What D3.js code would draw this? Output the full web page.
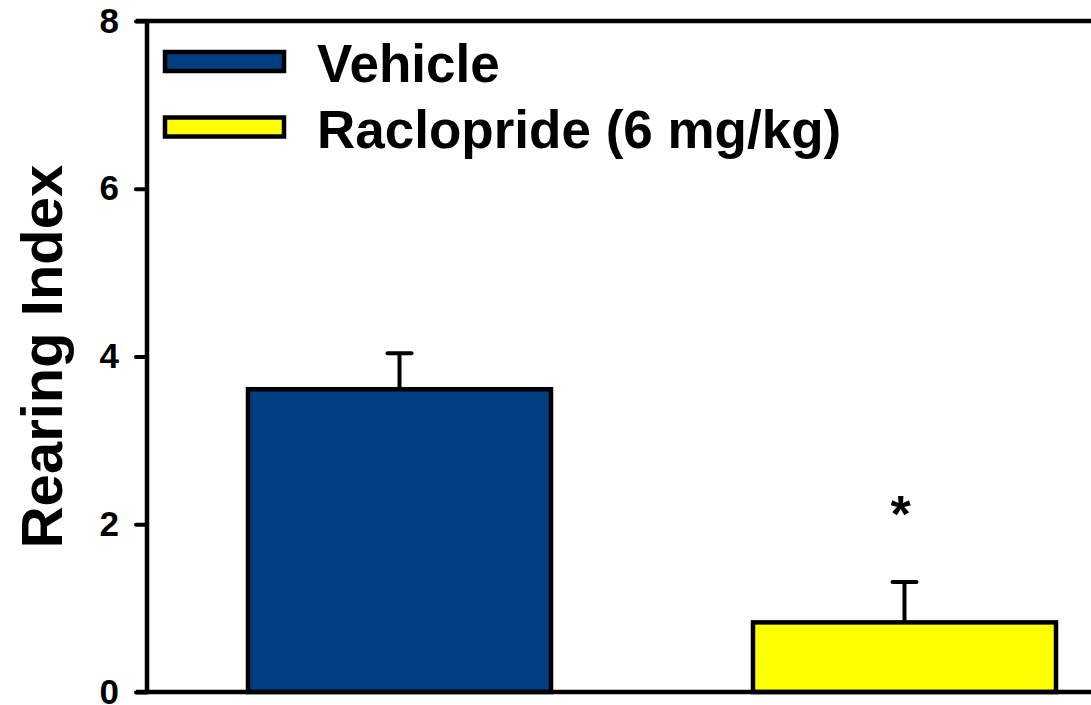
<!DOCTYPE html>
<html>
<head>
<meta charset="utf-8">
<script src="https://d3js.org/d3.v7.min.js"></script>
<style>
  body { margin: 0; background: #fff; }
  svg { display: block; font-family: "Liberation Sans", Arial, sans-serif; font-weight: bold; }
</style>
</head>
<body>
<svg width="1091" height="705"></svg>
<script>
// data
const groups = ["Vehicle", "Raclopride (6 mg/kg)"];
const means = [3.61, 0.83];
const errors = [0.43, 0.48];
const colors = ["#003f7f", "#ffff00"];
const yTicks = [0, 2, 4, 6, 8];
const marks = ["", "*"];

const svg = d3.select("svg");
const plotL = 147, plotT = 21, plotB = 692, plotR = 1157;

const x = d3.scaleBand().domain(groups).range([plotL, plotR])
  .paddingInner(0.4).paddingOuter(0.2);
const y = d3.scaleLinear().domain([0, 8]).range([plotB, plotT]);

// bars
svg.selectAll("rect.bar").data(groups).enter().append("rect")
  .attr("class", "bar")
  .attr("x", d => x(d))
  .attr("width", x.bandwidth())
  .attr("y", (d, i) => y(means[i]))
  .attr("height", (d, i) => y(0) - y(means[i]))
  .attr("fill", (d, i) => colors[i])
  .attr("stroke", "#000").attr("stroke-width", 4.5);

// error bars (upper only)
const eb = svg.selectAll("g.err").data(groups).enter().append("g").attr("class", "err");
eb.append("line")
  .attr("x1", d => x(d) + x.bandwidth() / 2).attr("x2", d => x(d) + x.bandwidth() / 2)
  .attr("y1", (d, i) => y(means[i])).attr("y2", (d, i) => y(means[i] + errors[i]))
  .attr("stroke", "#000").attr("stroke-width", 4);
eb.append("line")
  .attr("x1", d => x(d) + x.bandwidth() / 2 - 12).attr("x2", d => x(d) + x.bandwidth() / 2 + 12)
  .attr("y1", (d, i) => y(means[i] + errors[i])).attr("y2", (d, i) => y(means[i] + errors[i]))
  .attr("stroke", "#000").attr("stroke-width", 4).attr("stroke-linecap", "round");

// significance mark
svg.selectAll("text.sig").data(groups).enter().append("text")
  .attr("class", "sig")
  .attr("x", d => x(d) + x.bandwidth() / 2 - 4)
  .attr("y", (d, i) => y(means[i] + errors[i]) - 50)
  .attr("text-anchor", "middle")
  .attr("font-size", 52)
  .text((d, i) => marks[i]);

// axes
const yAxis = svg.append("g").attr("transform", "translate(" + plotL + ",0)")
  .call(d3.axisLeft(y).tickValues(yTicks).tickSize(11).tickPadding(17));
yAxis.select(".domain").remove();
yAxis.attr("font-size", null).attr("font-family", null);
yAxis.selectAll(".tick line").attr("stroke", "#000").attr("stroke-width", 4).attr("stroke-linecap", "round");
yAxis.selectAll(".tick text")
  .style("font-size", "35px").style("font-weight", "bold")
  .style("font-family", "'Liberation Sans', Arial, sans-serif").attr("fill", "#000");

svg.append("line").attr("x1", plotL).attr("x2", plotL).attr("y1", plotT).attr("y2", plotB)
  .attr("stroke", "#000").attr("stroke-width", 4.5);
svg.append("line").attr("x1", plotL - 11).attr("x2", plotR).attr("y1", plotT).attr("y2", plotT)
  .attr("stroke", "#000").attr("stroke-width", 4.5);
svg.append("line").attr("x1", plotL - 11).attr("x2", plotR).attr("y1", plotB).attr("y2", plotB)
  .attr("stroke", "#000").attr("stroke-width", 4.5);

// y label
svg.append("text")
  .attr("transform", "translate(62," + ((plotT + plotB) / 2) + ") rotate(-90)")
  .attr("text-anchor", "middle")
  .attr("font-size", 58)
  .text("Rearing Index");

// legend
const lg = svg.selectAll("g.leg").data(groups).enter().append("g")
  .attr("class", "leg")
  .attr("transform", (d, i) => "translate(165," + (52 + i * 65.5) + ")");
lg.append("rect").attr("width", 119).attr("height", 19)
  .attr("fill", (d, i) => colors[i]).attr("stroke", "#000").attr("stroke-width", 4.5);
lg.append("text").attr("x", 152).attr("y", 30).attr("font-size", 53).text(d => d);
</script>
</body>
</html>
